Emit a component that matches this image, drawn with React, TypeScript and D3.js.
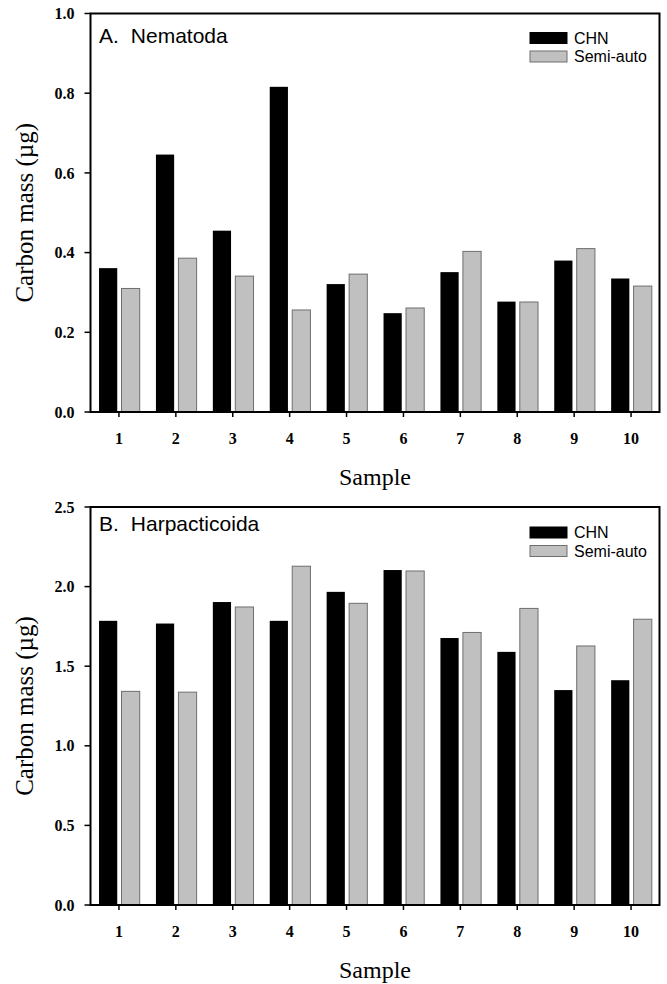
import React from 'react';
import * as d3 from 'd3';

// sample numbers on the x axis
const samples = [1, 2, 3, 4, 5, 6, 7, 8, 9, 10];

// A. Nematoda, carbon mass (µg)
const nemaCHN = [0.361, 0.646, 0.455, 0.816, 0.321, 0.248, 0.351, 0.277, 0.380, 0.335];
const nemaSemi = [0.310, 0.386, 0.341, 0.256, 0.346, 0.261, 0.403, 0.276, 0.410, 0.316];
const nemaTicks = [0, 0.2, 0.4, 0.6, 0.8, 1.0];

// B. Harpacticoida, carbon mass (µg)
const harpCHN = [1.785, 1.768, 1.903, 1.785, 1.967, 2.104, 1.677, 1.59, 1.35, 1.412];
const harpSemi = [1.342, 1.337, 1.872, 2.128, 1.895, 2.098, 1.712, 1.863, 1.627, 1.795];
const harpTicks = [0, 0.5, 1.0, 1.5, 2.0, 2.5];

const seriesNames = ['CHN', 'Semi-auto'];

const W = 667, H = 984;
const left = 90.5, right = 659.5;

const Panel = ({ top, bottom, title, chn, semi, ticks, titleDy, legDy }) => {
  const x = d3.scaleLinear().domain([0.5, 10.5]).range([left, right]);
  const y = d3.scaleLinear().domain([0, ticks[ticks.length - 1]]).range([bottom, top]);
  const bw = x(0.32) - x(0);
  const fmt = d3.format('.1f');
  const serif = 'Times New Roman, Liberation Serif, serif';
  const sans = 'Arial, Liberation Sans, sans-serif';
  return (
    <g>
      {samples.map((s, i) => (
        <g key={s}>
          <rect x={x(s - 0.35)} y={y(chn[i])} width={bw} height={y(0) - y(chn[i])} fill="#000" />
          <rect x={x(s + 0.045)} y={y(semi[i])} width={bw} height={y(0) - y(semi[i])}
            fill="#c0c0c0" stroke="#6e6e6e" strokeWidth={1} />
        </g>
      ))}
      {/* frame */}
      <rect x={left} y={top} width={right - left} height={bottom - top} fill="none" stroke="#000" strokeWidth={2} />
      {/* y axis */}
      {ticks.map(t => (
        <g key={t}>
          <line x1={left - 6} x2={left} y1={y(t)} y2={y(t)} stroke="#000" strokeWidth={1.5} />
          <text x={left - 16} y={y(t)} dy="0.35em" textAnchor="end" fontFamily={serif}
            fontWeight="bold" fontSize={16}>{fmt(t)}</text>
        </g>
      ))}
      {/* x axis */}
      {samples.map(s => (
        <g key={s}>
          <line x1={x(s)} x2={x(s)} y1={bottom} y2={bottom + 5} stroke="#000" strokeWidth={1.5} />
          <text x={x(s)} y={bottom + 32} textAnchor="middle" fontFamily={serif}
            fontWeight="bold" fontSize={16}>{s}</text>
        </g>
      ))}
      <text x={(left + right) / 2} y={bottom + 73} textAnchor="middle" fontFamily={serif} fontSize={24}>Sample</text>
      <text transform={`translate(33,${(top + bottom) / 2}) rotate(-90)`} textAnchor="middle"
        fontFamily={serif} fontSize={25}>Carbon mass (µg)</text>
      {/* panel title */}
      <text x={99} y={top + titleDy} fontFamily={sans} fontSize={21}>
        <tspan>{title[0]}</tspan><tspan dx={12}>{title[1]}</tspan>
      </text>
      {/* legend */}
      {seriesNames.map((n, i) => (
        <g key={n}>
          <rect x={530} y={top + legDy + i * 18.5} width={37} height={11}
            fill={i === 0 ? '#000' : '#c0c0c0'} stroke={i === 0 ? '#000' : '#6e6e6e'} strokeWidth={1} />
          <text x={574} y={top + legDy + i * 18.5 + 11} fontFamily={sans} fontSize={16}>{n}</text>
        </g>
      ))}
    </g>
  );
};

export default function App() {
  return (
    <svg width={W} height={H} style={{ position: 'absolute', left: 0, top: 0, background: '#fff' }}>
      <rect width={W} height={H} fill="#fff" />
      <Panel top={13.5} bottom={412} title={['A.', 'Nematoda']} chn={nemaCHN} semi={nemaSemi}
        ticks={nemaTicks} titleDy={29.5} legDy={19} />
      <Panel top={507} bottom={905} title={['B.', 'Harpacticoida']} chn={harpCHN} semi={harpSemi}
        ticks={harpTicks} titleDy={24} legDy={20} />
    </svg>
  );
}
